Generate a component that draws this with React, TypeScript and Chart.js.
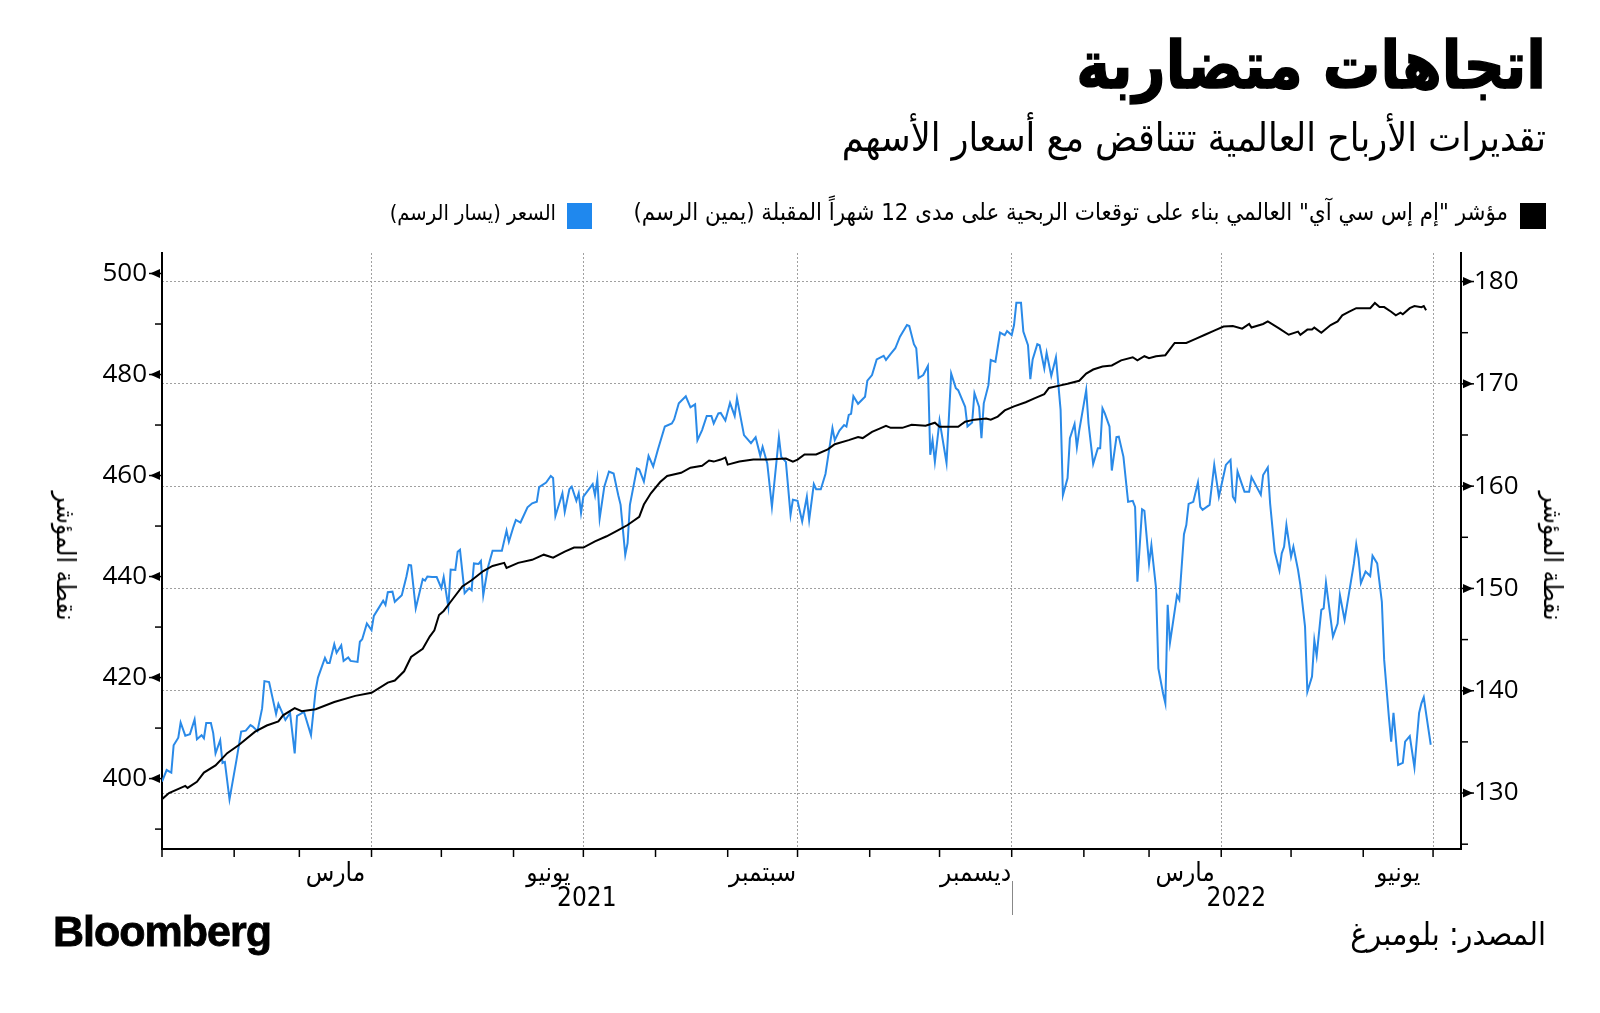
import React, { useEffect, useRef } from 'react';
import { Chart, registerables } from 'chart.js';

Chart.register(...registerables);

// ---------- data (x = days since 1 Jan 2021) ----------
const priceDay = [
  0, 2, 4, 5, 7, 8, 10, 12, 14, 15, 17, 18, 19, 21, 22, 23, 25, 26, 27, 29,
  32, 34, 36, 38, 39, 41, 43, 44, 46, 49, 50, 53, 55, 57, 58, 61, 64, 66, 67, 70,
  71, 72, 74, 75, 77, 78, 80, 81, 84, 85, 86, 88, 90, 91, 93, 95, 96, 97, 99, 100,
  103, 105, 106, 107, 109, 112, 113, 114, 116, 118, 120, 121, 123, 124, 126, 127, 128, 130, 132, 133,
  134, 136, 137, 138, 140, 142, 146, 148, 149, 151, 152, 154, 157, 159, 161, 162, 165, 167, 168, 169,
  172, 173, 175, 176, 178, 179, 180, 181, 185, 186, 187, 188, 190, 192, 194, 196, 197, 199, 200, 201,
  204, 205, 207, 209, 211, 213, 216, 219, 220, 222, 225, 227, 229, 230, 232, 234, 236, 237, 239, 240,
  242, 244, 246, 247, 250, 253, 255, 257, 258, 260, 262, 265, 266, 268, 270, 271, 273, 275, 277, 278,
  280, 281, 283, 285, 288, 289, 291, 293, 294, 295, 296, 297, 299, 302, 303, 305, 307, 310, 311, 313,
  315, 317, 320, 321, 323, 324, 325, 327, 329, 330, 331, 332, 334, 337, 339, 341, 342, 345, 346, 348,
  349, 351, 352, 353, 355, 356, 358, 359, 360, 362, 363, 365, 366, 367, 369, 370, 372, 373, 374, 376,
  377, 379, 380, 382, 384, 386, 387, 389, 390, 392, 393, 394, 397, 398, 400, 402, 403, 404, 405, 407,
  408, 410, 411, 413, 415, 417, 418, 419, 421, 422, 424, 425, 427, 428, 430, 431, 432, 433, 436, 437,
  439, 440, 441, 443, 445, 446, 447, 450, 452, 454, 457, 459, 460, 461, 462, 464, 465, 467, 468, 472,
  473, 475, 476, 478, 480, 481, 482, 483, 485, 486, 488, 489, 491, 492, 494, 495, 496, 498, 499, 500,
  503, 505, 506, 508, 510, 512, 513, 514, 515, 517, 519, 520, 522, 524, 525, 527, 528, 529, 531, 533,
  534, 536, 538, 540, 541, 542, 543, 545,
];
const priceValue = [
  399.4, 401.7, 401.2, 406.6, 408.1, 411.1, 408.5, 408.8, 411.7, 407.8, 408.6, 408.0, 411.0, 411.0, 409.0, 405.0, 407.6, 403.1, 403.3, 395.9,
  403.7, 409.3, 409.5, 410.6, 410.3, 409.4, 413.9, 419.3, 419.1, 412.8, 414.8, 411.6, 413.0, 405.0, 412.4, 413.2, 408.6, 417.5, 420.0, 423.9,
  422.9, 422.9, 426.6, 424.9, 426.4, 423.3, 424.0, 423.3, 423.1, 427.1, 427.6, 430.7, 429.4, 432.2, 433.7, 435.2, 434.4, 436.9, 437.0, 435.0,
  436.3, 440.0, 442.3, 442.2, 433.7, 439.5, 439.2, 440.0, 439.9, 439.9, 437.7, 439.9, 434.0, 441.4, 441.3, 444.9, 445.3, 436.7, 437.7, 437.3,
  442.6, 442.5, 443.1, 436.3, 441.8, 445.1, 445.1, 449.1, 446.9, 449.9, 451.2, 450.7, 453.7, 454.5, 454.8, 457.7, 458.6, 459.9, 459.5, 452.0,
  456.5, 452.8, 457.3, 457.8, 455.0, 456.5, 452.6, 455.8, 458.3, 456.1, 459.3, 451.5, 457.8, 460.8, 460.4, 456.1, 454.2, 444.3, 446.6, 454.2,
  461.4, 461.2, 458.8, 463.9, 461.8, 465.1, 469.7, 470.3, 471.1, 474.3, 475.7, 473.5, 474.1, 467.0, 469.0, 471.8, 471.8, 470.3, 472.3, 472.4,
  470.9, 474.4, 471.8, 475.3, 468.0, 466.4, 467.6, 463.9, 465.7, 462.4, 453.8, 467.6, 463.7, 462.7, 452.2, 455.2, 455.0, 450.9, 455.8, 451.2,
  458.3, 457.3, 457.3, 460.3, 469.4, 467.0, 468.9, 470.0, 469.7, 472.0, 472.2, 475.7, 474.2, 475.6, 478.8, 479.9, 483.0, 483.7, 482.9, 484.1,
  485.2, 487.5, 489.8, 489.6, 486.0, 485.2, 479.3, 479.9, 481.7, 464.1, 467.0, 462.7, 470.9, 462.5, 480.2, 477.3, 476.9, 473.6, 469.7, 470.5,
  476.3, 473.6, 467.4, 474.3, 477.9, 482.9, 482.5, 485.4, 488.3, 487.8, 488.6, 487.8, 489.8, 494.2, 494.2, 488.5, 485.8, 479.1, 483.0, 486.0,
  485.8, 481.2, 484.3, 479.7, 483.4, 473.0, 456.1, 459.5, 467.4, 470.2, 465.6, 468.9, 476.9, 470.3, 462.3, 465.4, 465.4, 473.3, 472.3, 469.7,
  461.0, 467.6, 467.7, 463.7, 454.8, 455.0, 453.8, 439.0, 453.3, 453.0, 442.5, 446.2, 437.7, 421.8, 416.9, 414.9, 434.4, 426.9, 436.3, 435.4,
  448.4, 450.2, 454.4, 454.8, 458.6, 453.8, 453.2, 454.2, 462.1, 455.8, 462.1, 463.1, 455.8, 455.0, 460.8, 458.1, 456.8, 456.8, 459.7, 456.2,
  460.1, 461.6, 454.5, 444.9, 441.2, 444.6, 445.9, 450.2, 443.9, 445.9, 441.3, 438.3, 430.1, 417.2, 420.2, 427.4, 424.3, 433.4, 433.7, 438.8,
  428.1, 430.7, 436.3, 431.4, 437.0, 442.6, 446.4, 443.6, 438.7, 441.0, 440.1, 444.1, 442.6, 435.0, 423.5, 412.3, 407.3, 413.0, 402.7, 403.1,
  407.3, 408.4, 402.2, 413.0, 414.9, 416.1, 412.9, 406.7,
];
const epsDay = [
  0, 3, 10, 11, 15, 18, 23, 28, 33, 40, 45, 50, 52, 57, 60, 66, 74, 83, 90, 97,
  100, 104, 107, 112, 115, 117, 119, 121, 124, 129, 133, 138, 142, 147, 148, 153, 159, 164, 168, 173,
  177, 181, 186, 191, 196, 200, 205, 207, 210, 214, 217, 223, 227, 232, 235, 237, 240, 242, 243, 248,
  254, 260, 268, 271, 273, 276, 281, 286, 289, 295, 299, 301, 305, 308, 311, 313, 318, 322, 328, 332,
  334, 342, 345, 349, 354, 356, 359, 362, 366, 371, 375, 379, 381, 385, 389, 394, 397, 400, 404, 408,
  412, 417, 419, 422, 424, 427, 431, 435, 438, 440, 444, 448, 452, 456, 460, 464, 467, 468, 473, 475,
  480, 484, 488, 489, 492, 494, 495, 498, 502, 505, 507, 510, 513, 516, 519, 521, 523, 525, 528, 530,
  532, 533, 536, 538, 541, 542, 543,
];
const epsValue = [
  129.4, 130.0, 130.7, 130.5, 131.1, 132.0, 132.7, 133.9, 134.7, 136.0, 136.6, 137.0, 137.6, 138.3, 138.0, 138.2, 138.9, 139.5, 139.8, 140.8,
  141.0, 141.9, 143.3, 144.1, 145.3, 145.9, 147.4, 147.8, 148.7, 150.2, 150.8, 151.7, 152.2, 152.5, 152.0, 152.5, 152.8, 153.3, 153.0, 153.6,
  154.0, 154.0, 154.6, 155.1, 155.7, 156.2, 157.0, 158.2, 159.3, 160.4, 161.0, 161.3, 161.8, 162.0, 162.5, 162.4, 162.6, 162.8, 162.1, 162.4,
  162.6, 162.6, 162.7, 162.4, 162.6, 163.1, 163.1, 163.6, 164.1, 164.5, 164.8, 164.7, 165.3, 165.6, 165.9, 165.7, 165.7, 166.0, 165.9, 166.2,
  165.8, 165.8, 166.3, 166.5, 166.6, 166.5, 166.8, 167.4, 167.8, 168.2, 168.6, 169.0, 169.6, 169.8, 170.0, 170.3, 171.0, 171.4, 171.7, 171.8,
  172.3, 172.6, 172.3, 172.7, 172.5, 172.7, 172.8, 174.0, 174.0, 174.0, 174.4, 174.8, 175.2, 175.6, 175.65, 175.4, 175.85, 175.5, 175.85, 176.1,
  175.4, 174.8, 175.1, 174.8, 175.3, 175.3, 175.5, 175.0, 175.75, 176.1, 176.7, 177.05, 177.4, 177.4, 177.4, 177.9, 177.5, 177.5, 177.05, 176.7,
  176.95, 176.8, 177.4, 177.6, 177.5, 177.6, 177.2,
];

const leftTicks = [400, 420, 440, 460, 480, 500];
const leftMinorTicks = [390, 410, 430, 450, 470, 490];
const rightTicks = [130, 140, 150, 160, 170, 180];
const rightMinorTicks = [125, 135, 145, 155, 165, 175];
const gridDays = [90, 181, 273, 365, 455, 546];
const monthStartDays = [0, 31, 59, 90, 120, 151, 181, 212, 243, 273, 304, 334, 365, 396, 424, 455, 485, 516, 546];
const monthLabels = ['مارس', 'يونيو', 'سبتمبر', 'ديسمبر', 'مارس', 'يونيو'];
const monthLabelDays = [74.5, 166, 258, 349.5, 439.5, 531];
const yearLabels = ['2021', '2022'];
const yearLabelDays = [182.5, 461.5];
const yearBoundaryDay = 365;

const TITLE = 'اتجاهات متضاربة';
const SUBTITLE = 'تقديرات الأرباح العالمية تتناقض مع أسعار الأسهم';
const LEGEND_EPS = 'مؤشر "إم إس سي آي" العالمي بناء على توقعات الربحية على مدى 12 شهراً المقبلة (يمين الرسم)';
const LEGEND_PRICE = 'السعر (يسار الرسم)';
const AXIS_TITLE = 'نقطة المؤشر';
const SOURCE = 'المصدر: بلومبرغ';

const BLUE = '#2a8ae8';
const ARABIC = '"DejaVu Sans Condensed", "DejaVu Sans", sans-serif';

const decorPlugin = {
  id: 'decor',
  afterDraw(chart: any) {
    const { ctx, chartArea: a, scales } = chart;
    const xs = scales.x, yl = scales.y, yr = scales.y2;
    ctx.save();
    ctx.fillStyle = '#000';
    ctx.strokeStyle = '#000';
    ctx.lineWidth = 1.5;
    const tri = (ax: number, py: number, dir: number) => {
      ctx.beginPath();
      ctx.moveTo(ax, py);
      ctx.lineTo(ax + dir * 13, py);
      ctx.stroke();
      ctx.beginPath();
      ctx.moveTo(ax + dir * 2, py - 4.5);
      ctx.lineTo(ax + dir * 2, py + 4.5);
      ctx.lineTo(ax + dir * 12, py);
      ctx.closePath();
      ctx.fill();
    };
    leftTicks.forEach((v) => tri(a.left, yl.getPixelForValue(v), -1));
    rightTicks.forEach((v) => tri(a.right, yr.getPixelForValue(v), 1));
    const minor = (ax: number, py: number, dir: number) => {
      ctx.beginPath();
      ctx.moveTo(ax, py);
      ctx.lineTo(ax + dir * 7, py);
      ctx.stroke();
    };
    leftMinorTicks.forEach((v) => minor(a.left, yl.getPixelForValue(v), -1));
    rightMinorTicks.forEach((v) => minor(a.right, yr.getPixelForValue(v), 1));
    monthStartDays.forEach((d) => {
      const px = xs.getPixelForValue(d);
      ctx.beginPath();
      ctx.moveTo(px, a.bottom);
      ctx.lineTo(px, a.bottom + 8);
      ctx.stroke();
    });
    ctx.font = '26px ' + ARABIC;
    ctx.textAlign = 'center';
    ctx.textBaseline = 'middle';
    ctx.direction = 'rtl';
    monthLabels.forEach((t, i) => ctx.fillText(t, xs.getPixelForValue(monthLabelDays[i]), a.bottom + 25));
    ctx.direction = 'ltr';
    yearLabels.forEach((t, i) => ctx.fillText(t, xs.getPixelForValue(yearLabelDays[i]), a.bottom + 50));
    ctx.strokeStyle = '#888';
    ctx.lineWidth = 1;
    const bx = Math.round(xs.getPixelForValue(yearBoundaryDay)) + 0.5;
    ctx.beginPath();
    ctx.moveTo(bx, a.bottom + 32);
    ctx.lineTo(bx, a.bottom + 66);
    ctx.stroke();
    ctx.restore();
  },
};

function Txt(props: { style: React.CSSProperties; children: React.ReactNode; rtl?: boolean }) {
  return (
    <div
      dir={props.rtl === false ? 'ltr' : 'rtl'}
      style={{ position: 'absolute', whiteSpace: 'nowrap', lineHeight: 1, color: '#000', ...props.style }}
    >
      {props.children}
    </div>
  );
}

export default function App() {
  const ref = useRef<HTMLCanvasElement | null>(null);

  useEffect(() => {
    if (!ref.current) return;
    const chart = new Chart(ref.current, {
      type: 'line',
      data: {
        datasets: [
          {
            label: 'eps',
            data: epsDay.map((d, i) => ({ x: d, y: epsValue[i] })),
            yAxisID: 'y2',
            borderColor: '#000',
            borderWidth: 2,
            pointRadius: 0,
            tension: 0,
          },
          {
            label: 'price',
            data: priceDay.map((d, i) => ({ x: d, y: priceValue[i] })),
            yAxisID: 'y',
            borderColor: BLUE,
            borderWidth: 2,
            pointRadius: 0,
            tension: 0,
          },
        ],
      },
      options: {
        responsive: false,
        animation: false,
        layout: { padding: { top: 253, left: 0, right: 0, bottom: 0 } },
        plugins: { legend: { display: false }, tooltip: { enabled: false } },
        scales: {
          x: {
            type: 'linear',
            min: 0,
            max: 558,
            afterBuildTicks: (s: any) => {
              s.ticks = gridDays.map((v) => ({ value: v }));
            },
            afterFit: (s: any) => {
              s.height = 164;
            },
            ticks: { display: false },
            grid: { display: true, drawOnChartArea: true, drawTicks: false, color: '#a0a0a0', lineWidth: 1 },
            border: { display: true, color: '#000', width: 2, dash: [2, 2] },
          },
          y: {
            type: 'linear',
            position: 'left',
            min: 386.06,
            max: 504.06,
            afterBuildTicks: (s: any) => {
              s.ticks = leftTicks.map((v) => ({ value: v }));
            },
            afterFit: (s: any) => {
              s.width = 162;
            },
            ticks: { color: '#000', padding: 15, font: { family: '"Open Sans"', size: 26 } },
            grid: { display: false, drawTicks: false },
            border: { display: true, color: '#000', width: 2 },
          },
          y2: {
            type: 'linear',
            position: 'right',
            min: 124.53,
            max: 182.79,
            afterBuildTicks: (s: any) => {
              s.ticks = rightTicks.map((v) => ({ value: v }));
            },
            afterFit: (s: any) => {
              s.width = 139;
            },
            ticks: { color: '#000', padding: 13, font: { family: '"Open Sans"', size: 26 } },
            grid: { display: true, drawOnChartArea: true, drawTicks: false, color: '#a0a0a0', lineWidth: 1 },
            border: { display: true, color: '#000', width: 2, dash: [2, 2] },
          },
        },
      },
      plugins: [decorPlugin],
    } as any);
    return () => chart.destroy();
  }, []);

  return (
    <div style={{ position: 'absolute', left: 0, top: 0, width: 1600, height: 1013, background: '#fff', overflow: 'hidden' }}>
      <canvas ref={ref} width={1600} height={1013} style={{ position: 'absolute', left: 0, top: 0 }} />
      <Txt
        style={{
          right: 54,
          top: 33,
          fontSize: 66,
          fontWeight: 700,
          fontFamily: '"DejaVu Sans", sans-serif',
          WebkitTextStroke: '1.5px #000',
          transform: 'scaleX(0.87)',
          transformOrigin: 'right center',
        }}
      >
        {TITLE}
      </Txt>
      <Txt style={{ right: 54, top: 118, fontSize: 39, fontFamily: ARABIC }}>{SUBTITLE}</Txt>
      <div style={{ position: 'absolute', left: 1520, top: 203, width: 26, height: 26, background: '#000' }} />
      <Txt style={{ right: 1600 - 1508, top: 201, fontSize: 23.8, fontFamily: ARABIC }}>{LEGEND_EPS}</Txt>
      <div style={{ position: 'absolute', left: 567, top: 203, width: 25, height: 26, background: '#1f88ee' }} />
      <Txt style={{ right: 1600 - 556, top: 202, fontSize: 21.7, fontFamily: ARABIC }}>{LEGEND_PRICE}</Txt>
      <Txt style={{ left: 66, top: 556, fontSize: 26, fontFamily: ARABIC, transform: 'translate(-50%, -50%) rotate(90deg)' }}>
        {AXIS_TITLE}
      </Txt>
      <Txt style={{ left: 1553, top: 556, fontSize: 26, fontFamily: ARABIC, transform: 'translate(-50%, -50%) rotate(90deg)' }}>
        {AXIS_TITLE}
      </Txt>
      <Txt
        rtl={false}
        style={{
          left: 53,
          top: 910,
          fontSize: 43,
          fontWeight: 700,
          fontFamily: '"Liberation Sans", Arial, sans-serif',
          letterSpacing: '-1px',
          WebkitTextStroke: '0.8px #000',
        }}
      >
        Bloomberg
      </Txt>
      <Txt style={{ right: 54, top: 918, fontSize: 32, fontFamily: ARABIC }}>{SOURCE}</Txt>
    </div>
  );
}
